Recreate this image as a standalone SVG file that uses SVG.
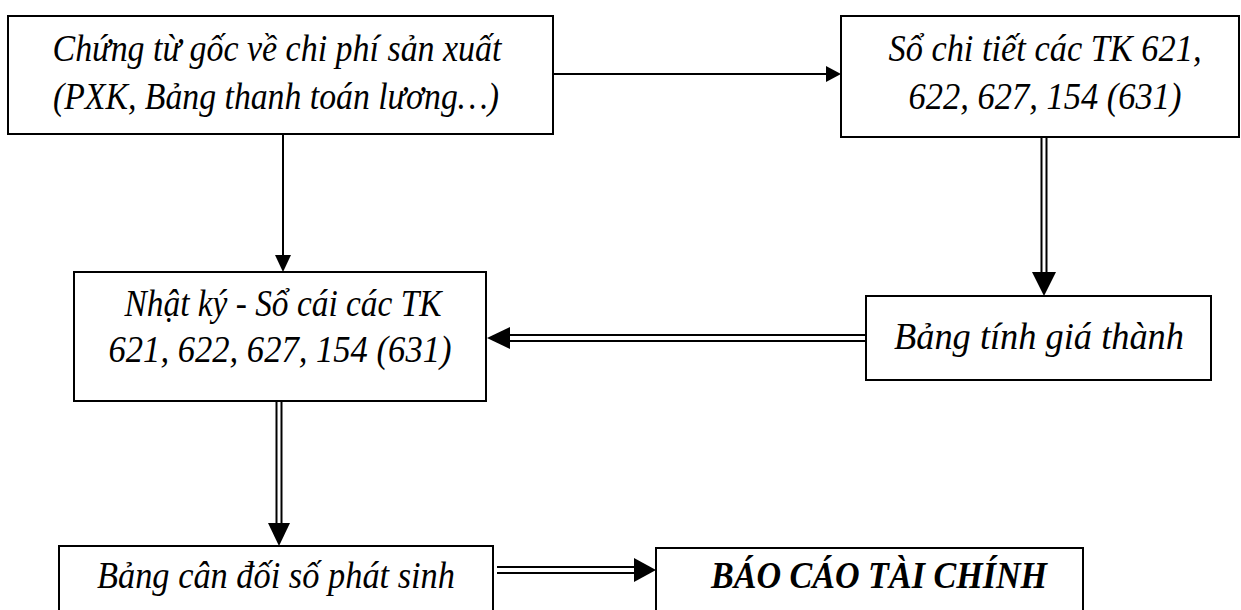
<svg xmlns="http://www.w3.org/2000/svg" width="1241" height="610" viewBox="0 0 1241 610">
  <style>
    .box { fill: #ffffff; stroke: #000000; stroke-width: 2; }
    .lbl { font-family: 'Liberation Serif', 'DejaVu Serif', serif; font-style: italic; font-size: 37px; fill: #000000; text-anchor: middle; }
    .bold { font-weight: bold; }
    .ln { stroke: #000000; stroke-width: 2; fill: none; }
    .ln2 { stroke: #000000; stroke-width: 2; fill: none; }
    .head { fill: #000000; stroke: none; }
  </style>
  <rect width="1241" height="610" fill="#ffffff"/>

  <!-- connectors -->
  <g id="connectors">
    <!-- source documents -> detail ledgers -->
    <line class="ln" x1="553" y1="74" x2="827" y2="74"/>
    <polygon class="head" points="826,66 841,74 826,82"/>
    <!-- source documents -> journal-ledger -->
    <line class="ln" x1="283" y1="134" x2="283" y2="256"/>
    <polygon class="head" points="275,255 283,272 291,255"/>
    <!-- detail ledgers => costing table -->
    <line class="ln2" x1="1041.5" y1="137" x2="1041.5" y2="273"/>
    <line class="ln2" x1="1046.5" y1="137" x2="1046.5" y2="273"/>
    <polygon class="head" points="1032,272 1056,272 1044,296"/>
    <!-- costing table => journal-ledger -->
    <line class="ln2" x1="866" y1="335" x2="509" y2="335"/>
    <line class="ln2" x1="866" y1="341" x2="509" y2="341"/>
    <polygon class="head" points="510,327 510,349 487,338"/>
    <!-- journal-ledger => trial balance -->
    <line class="ln2" x1="276.5" y1="401" x2="276.5" y2="524"/>
    <line class="ln2" x1="281.5" y1="401" x2="281.5" y2="524"/>
    <polygon class="head" points="268,523 290,523 279,546"/>
    <!-- trial balance => financial statements -->
    <line class="ln2" x1="497" y1="567" x2="635" y2="567"/>
    <line class="ln2" x1="497" y1="573" x2="635" y2="573"/>
    <polygon class="head" points="634,558 634,582 656,570"/>
  </g>

  <g id="chung-tu-goc">
    <rect class="box" x="8" y="16" width="545" height="118"/>
    <text class="lbl" x="277" y="61" textLength="449" lengthAdjust="spacingAndGlyphs">Chứng từ gốc về chi phí sản xuất</text>
    <text class="lbl" x="276" y="109" textLength="446" lengthAdjust="spacingAndGlyphs">(PXK, Bảng thanh toán lương…)</text>
  </g>

  <g id="so-chi-tiet">
    <rect class="box" x="841" y="16" width="398" height="121"/>
    <text class="lbl" x="1045" y="61" textLength="313" lengthAdjust="spacingAndGlyphs">Sổ chi tiết các TK 621,</text>
    <text class="lbl" x="1045" y="109" textLength="273" lengthAdjust="spacingAndGlyphs">622, 627, 154 (631)</text>
  </g>

  <g id="nhat-ky-so-cai">
    <rect class="box" x="74" y="272" width="412" height="129"/>
    <text class="lbl" x="283" y="316" textLength="317" lengthAdjust="spacingAndGlyphs">Nhật ký - Sổ cái các TK</text>
    <text class="lbl" x="280" y="362" textLength="343" lengthAdjust="spacingAndGlyphs">621, 622, 627, 154 (631)</text>
  </g>

  <g id="bang-tinh-gia-thanh">
    <rect class="box" x="866" y="296" width="345" height="84"/>
    <text class="lbl" x="1039" y="349" textLength="290" lengthAdjust="spacingAndGlyphs">Bảng tính giá thành</text>
  </g>

  <g id="bang-can-doi">
    <rect class="box" x="59" y="546" width="434" height="80"/>
    <text class="lbl" x="276" y="588" textLength="358" lengthAdjust="spacingAndGlyphs">Bảng cân đối số phát sinh</text>
  </g>

  <g id="bao-cao-tai-chinh">
    <rect class="box" x="656" y="548" width="427" height="80"/>
    <text class="lbl bold" x="879" y="588" textLength="336" lengthAdjust="spacingAndGlyphs">BÁO CÁO TÀI CHÍNH</text>
  </g>
</svg>
